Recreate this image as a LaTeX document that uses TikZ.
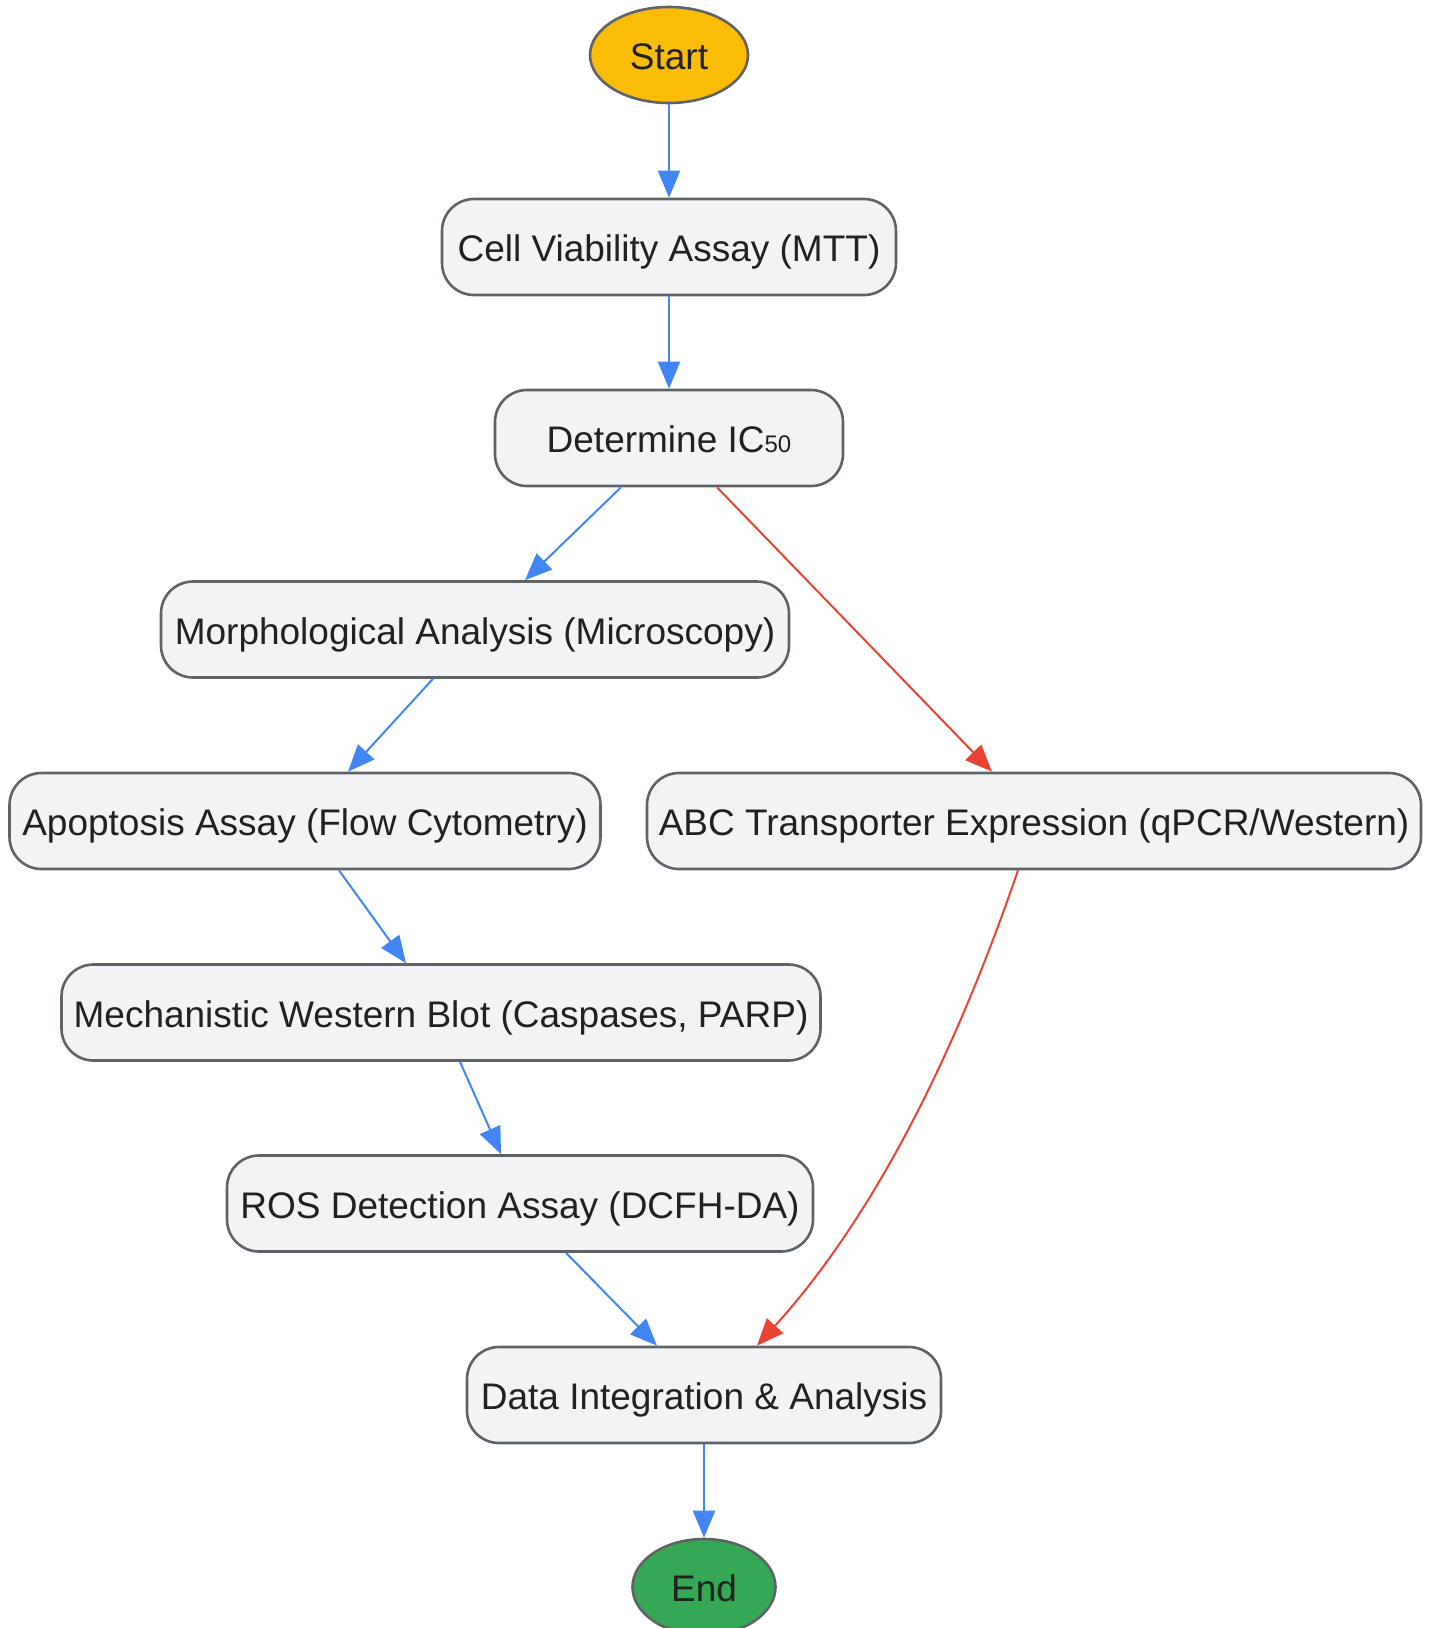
\documentclass[tikz,border=0pt]{standalone}
\usepackage{fontspec}
\setmainfont{Liberation Sans}
\usetikzlibrary{shapes.geometric,arrows.meta}
\definecolor{flowblue}{HTML}{4285F4}
\definecolor{flowred}{HTML}{EA4335}
\definecolor{startyellow}{HTML}{FBBC05}
\definecolor{endgreen}{HTML}{34A853}
\definecolor{boxfill}{HTML}{F1F3F4}
\definecolor{boxline}{HTML}{5F6368}
\definecolor{txt}{HTML}{202124}
\begin{document}
\begin{tikzpicture}[x=1pt,y=-1pt,
    every node/.style={font=\fontsize{37}{44}\selectfont,text=txt,text height=29pt,text depth=0pt},
    stepbox/.style={draw=boxline,line width=2.6pt,fill=boxfill,rounded corners=32pt,
      minimum height=96pt,inner sep=0pt},
    term/.style={ellipse,draw=boxline,line width=2.6pt,minimum height=96pt,inner sep=0pt},
    ok/.style={draw=flowblue,line width=2pt,-{Triangle[length=27pt,width=22pt]}},
    bad/.style={draw=flowred,line width=2pt,-{Triangle[length=27pt,width=22pt]}}]
  \useasboundingbox (0,0) rectangle (1433,1628);
  % nodes
  \node[term,fill=startyellow,minimum width=158pt] (start) at (669,55) {Start};
  \node[stepbox,minimum width=454pt] (mtt) at (669,247) {Cell Viability Assay (MTT)};
  \node[stepbox,minimum width=348pt] (ic) at (669,438) {Determine IC{\fontsize{24}{24}\selectfont 50}};
  \node[stepbox,minimum width=628pt] (morph) at (475,629.5) {Morphological Analysis (Microscopy)};
  \node[stepbox,minimum width=591pt] (apop) at (305,821) {Apoptosis Assay (Flow Cytometry)};
  \node[stepbox,minimum width=774pt] (abc) at (1034,821) {ABC Transporter Expression (qPCR/Western)};
  \node[stepbox,minimum width=759pt] (wb) at (441,1012.5) {Mechanistic Western Blot (Caspases, PARP)};
  \node[stepbox,minimum width=586pt] (ros) at (520,1203.5) {ROS Detection Assay (DCFH-DA)};
  \node[stepbox,minimum width=474pt] (data) at (704,1395) {Data Integration \& Analysis};
  \node[term,fill=endgreen,minimum width=143pt] (end) at (704,1587) {End};
  % edges
  \draw[ok] (start) -- (mtt);
  \draw[ok] (mtt) -- (ic);
  \draw[ok] ([xshift=-48pt]ic.south) -- ([xshift=50pt]morph.north);
  \draw[bad] ([xshift=48pt]ic.south) -- ([xshift=-42pt]abc.north);
  \draw[ok] ([xshift=-42pt]morph.south) -- ([xshift=43pt]apop.north);
  \draw[ok] ([xshift=34pt]apop.south) -- ([xshift=-35pt]wb.north);
  \draw[ok] ([xshift=19pt]wb.south) -- ([xshift=-19pt]ros.north);
  \draw[ok] ([xshift=46pt]ros.south) -- ([xshift=-47pt]data.north);
  \draw[bad] ([xshift=-16pt]abc.south) .. controls (960,1040) and (880,1210) .. ([xshift=53pt]data.north);
  \draw[ok] (data) -- (end);
\end{tikzpicture}
\end{document}
